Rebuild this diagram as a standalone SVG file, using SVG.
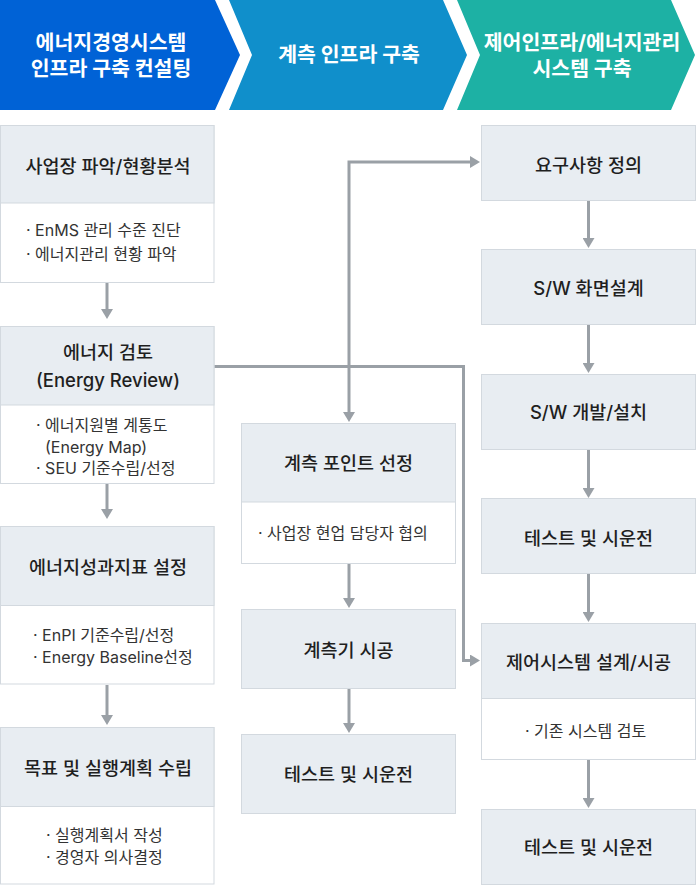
<svg xmlns="http://www.w3.org/2000/svg" width="696" height="885" viewBox="0 0 696 885">
<style>
.hd{fill:#ffffff;font-family:Inter,"Noto Sans CJK KR",sans-serif;font-size:20.5px;font-weight:700;text-anchor:middle;dominant-baseline:central}
.box{fill:#ffffff;stroke:#d3d9df;stroke-width:1}
.hbox{fill:#e8edf2;stroke:#d3d9df;stroke-width:1}
.tt{fill:#1f1f1f;font-family:Inter,"Noto Sans CJK KR",sans-serif;font-size:18.5px;font-weight:500;text-anchor:middle;dominant-baseline:central}
.bd{fill:#333333;font-family:Inter,"Noto Sans CJK KR",sans-serif;font-size:16px;font-weight:400;dominant-baseline:central}
.cn{fill:none;stroke:#9aa0a6;stroke-width:3;marker-end:url(#ah)}
</style>
<defs>
<marker id="ah" viewBox="0 0 10 12" markerWidth="10" markerHeight="12" markerUnits="userSpaceOnUse" refX="0" refY="6" orient="auto">
<path d="M0,0 L10,6 L0,12 z" fill="#9aa0a6"/>
</marker>
</defs>
<rect x="0" y="0" width="696" height="885" fill="#ffffff"/>

<g id="phase1">
<polygon points="0,0 215,0 240,55 215,110 0,110" fill="#0062d6"/>
<text class="hd" x="111" y="42">에너지경영시스템</text>
<text class="hd" x="111" y="68">인프라 구축 컨설팅</text>
</g>
<g id="phase2">
<polygon points="229,0 443,0 467,55 443,110 229,110 252,55" fill="#108fcb"/>
<text class="hd" x="349" y="54">계측 인프라 구축</text>
</g>
<g id="phase3">
<polygon points="457,0 671,0 695,55 671,110 457,110 480,55" fill="#1db1a4"/>
<text class="hd" x="582" y="42">제어인프라/에너지관리</text>
<text class="hd" x="582" y="68">시스템 구축</text>
</g>

<g id="connectors">
<path class="cn" d="M107,283 V309"/>
<path class="cn" d="M107,484 V509"/>
<path class="cn" d="M107,685 V715"/>
<path class="cn" d="M349,564 V598"/>
<path class="cn" d="M349,689 V723"/>
<path class="cn" d="M588.5,201 V238"/>
<path class="cn" d="M588.5,325 V363"/>
<path class="cn" d="M588.5,450 V488"/>
<path class="cn" d="M588.5,574 V612"/>
<path class="cn" d="M588.5,760 V798"/>
<path class="cn" d="M214,366.5 H463.5 V660.5 H470"/>
<path class="cn" d="M349,366.5 V162 H470"/>
<path class="cn" d="M349,366.5 V412"/>
</g>

<g id="n-site">
<rect class="box" x="0.5" y="125.5" width="213.5" height="157"/>
<rect class="hbox" x="0.5" y="125.5" width="213.5" height="77.5"/>
<text class="tt" x="108" y="166">사업장 파악/현황분석</text>
<text class="bd" x="26" y="230">· EnMS 관리 수준 진단</text>
<text class="bd" x="26" y="254">· 에너지관리 현황 파악</text>
</g>
<g id="n-review">
<rect class="box" x="0.5" y="326.5" width="213.5" height="157"/>
<rect class="hbox" x="0.5" y="326.5" width="213.5" height="78.5"/>
<text class="tt" x="108" y="352">에너지 검토</text>
<text class="tt" x="108" y="380">(Energy Review)</text>
<text class="bd" x="36" y="425">· 에너지원별 계통도</text>
<text class="bd" x="45" y="447">(Energy Map)</text>
<text class="bd" x="36" y="468">· SEU 기준수립/선정</text>
</g>
<g id="n-enpi">
<rect class="box" x="0.5" y="526.5" width="213.5" height="157.5"/>
<rect class="hbox" x="0.5" y="526.5" width="213.5" height="79"/>
<text class="tt" x="108" y="567">에너지성과지표 설정</text>
<text class="bd" x="33" y="635">· EnPI 기준수립/선정</text>
<text class="bd" x="33" y="657">· Energy Baseline선정</text>
</g>
<g id="n-plan">
<rect class="box" x="0.5" y="727.5" width="213.5" height="156.5"/>
<rect class="hbox" x="0.5" y="727.5" width="213.5" height="79"/>
<text class="tt" x="108" y="768">목표 및 실행계획 수립</text>
<text class="bd" x="46" y="835">· 실행계획서 작성</text>
<text class="bd" x="46" y="857">· 경영자 의사결정</text>
</g>

<g id="n-point">
<rect class="box" x="241.5" y="423.5" width="214" height="140"/>
<rect class="hbox" x="241.5" y="423.5" width="214" height="78.5"/>
<text class="tt" x="348.5" y="463">계측 포인트 선정</text>
<text class="bd" x="258" y="533">· 사업장 현업 담당자 협의</text>
</g>
<g id="n-meter">
<rect class="hbox" x="241.5" y="609.5" width="214" height="79"/>
<text class="tt" x="348.5" y="650">계측기 시공</text>
</g>
<g id="n-test1">
<rect class="hbox" x="241.5" y="734.5" width="214" height="79"/>
<text class="tt" x="348.5" y="774">테스트 및 시운전</text>
</g>

<g id="n-req">
<rect class="hbox" x="481.5" y="125.5" width="214" height="75"/>
<text class="tt" x="588.5" y="165">요구사항 정의</text>
</g>
<g id="n-ui">
<rect class="hbox" x="481.5" y="249.5" width="214" height="75"/>
<text class="tt" x="588.5" y="288">S/W 화면설계</text>
</g>
<g id="n-dev">
<rect class="hbox" x="481.5" y="374.5" width="214" height="75"/>
<text class="tt" x="588.5" y="412">S/W 개발/설치</text>
</g>
<g id="n-test2">
<rect class="hbox" x="481.5" y="498.5" width="214" height="75"/>
<text class="tt" x="588.5" y="538">테스트 및 시운전</text>
</g>
<g id="n-ctrl">
<rect class="box" x="481.5" y="623.5" width="214" height="136"/>
<rect class="hbox" x="481.5" y="623.5" width="214" height="75"/>
<text class="tt" x="588.5" y="662">제어시스템 설계/시공</text>
<text class="bd" x="525" y="731">· 기존 시스템 검토</text>
</g>
<g id="n-test3">
<rect class="hbox" x="481.5" y="809.5" width="214" height="75"/>
<text class="tt" x="588.5" y="847">테스트 및 시운전</text>
</g>
</svg>
